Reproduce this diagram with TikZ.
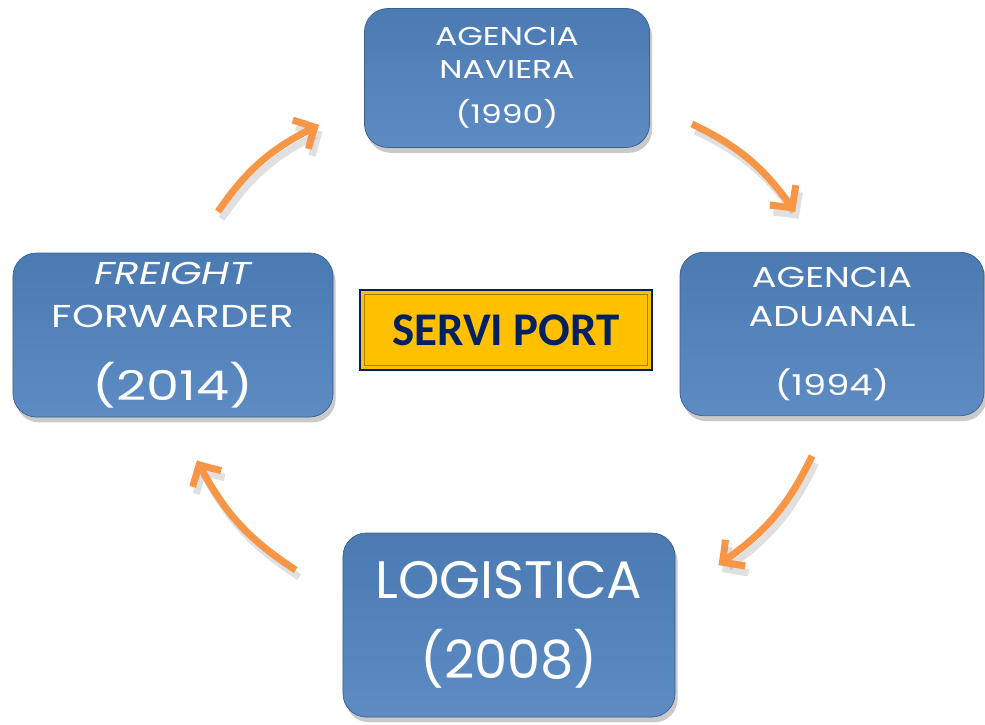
\documentclass[tikz,border=0pt]{standalone}
\usepackage{fontspec}
\setmainfont{Poppins}
\newfontfamily\wideface{Poppins}[FakeStretch=1.28]
\newfontfamily\labelfont{Carlito}
\usetikzlibrary{arrows.meta,shadows,bending}
\definecolor{boxblue}{HTML}{4F81BD}
\definecolor{flowwarm}{HTML}{F79646}
\definecolor{portgold}{HTML}{FFC000}
\definecolor{portnavy}{HTML}{002060}
\tikzset{
  stagebox/.style={rounded corners=0.7cm, top color=boxblue!95!black, bottom color=boxblue!92!white,
    draw=boxblue!75!black, line width=0.6pt, text=white, align=center,
    drop shadow={shadow xshift=0.08cm, shadow yshift=-0.16cm, opacity=0.35, fill=black!60}},
  flow/.style={draw=flowwarm, line width=6pt, -{Straight Barb[length=14pt,width=28pt,bend]}},
  flowshade/.style={flow, draw=black, opacity=0.12, transform canvas={shift={(3pt,-6pt)}}}
}
\begin{document}
\begin{tikzpicture}[x=0.03cm,y=-0.03cm]
  \useasboundingbox (0,0) rectangle (985,724);
  % the four stages
  \node[stagebox, minimum width=8.55cm, minimum height=4.17cm, font=\wideface\fontsize{22}{28}\selectfont]
    (naviera) at (507,78) {AGENCIA\\NAVIERA\\[11pt](1990)};
  \node[stagebox, minimum width=9.12cm, minimum height=4.9cm, font=\wideface\fontsize{24.5}{33}\selectfont]
    (aduanal) at (832,334) {AGENCIA\\ADUANAL\\[26pt](1994)};
  \node[stagebox, minimum width=9.6cm, minimum height=4.92cm, font=\wideface\fontsize{27}{37}\selectfont]
    (freight) at (173,335) {\itshape FREIGHT\\FORWARDER\\[25pt]\fontsize{35}{37}\selectfont(2014)};
  \node[stagebox, minimum width=9.96cm, minimum height=5.52cm, font=\fontsize{45}{68}\selectfont]
    (logistica) at (509,625) {LOGISTICA\\(2008)};
  % centre label
  \node[fill=portgold, draw=portnavy, line width=2.5pt, minimum width=8.76cm, minimum height=2.4cm,
    text=portnavy, font=\labelfont\bfseries\fontsize{40}{44}\selectfont] (servi) at (506,330) {SERVI PORT};
  \draw[portgold!65!black, line width=1pt] ([shift={(6,6)}]servi.north west) rectangle ([shift={(-6,-6)}]servi.south east);
  % ends of the arrows
  \coordinate (ffout) at ([shift={(45,-41)}]freight.north);
  \coordinate (nvin)  at ([shift={(-45,47)}]naviera.west);
  \coordinate (nvout) at ([shift={(42,46)}]naviera.east);
  \coordinate (adin)  at ([shift={(-37,-40)}]aduanal.north);
  \coordinate (adout) at ([shift={(-20,40)}]aduanal.south);
  \coordinate (lgin)  at ([shift={(43,-60)}]logistica.east);
  \coordinate (lgout) at ([shift={(-47,-55)}]logistica.west);
  \coordinate (ffin)  at ([shift={(24,43)}]freight.south);
  \foreach \s/\e in {ffout/nvin,nvout/adin,adout/lgin,lgout/ffin} {
    \draw[flowshade] (\s) to[bend left=15] (\e);
    \draw[flow] (\s) to[bend left=15] (\e);
  }
\end{tikzpicture}
\end{document}
